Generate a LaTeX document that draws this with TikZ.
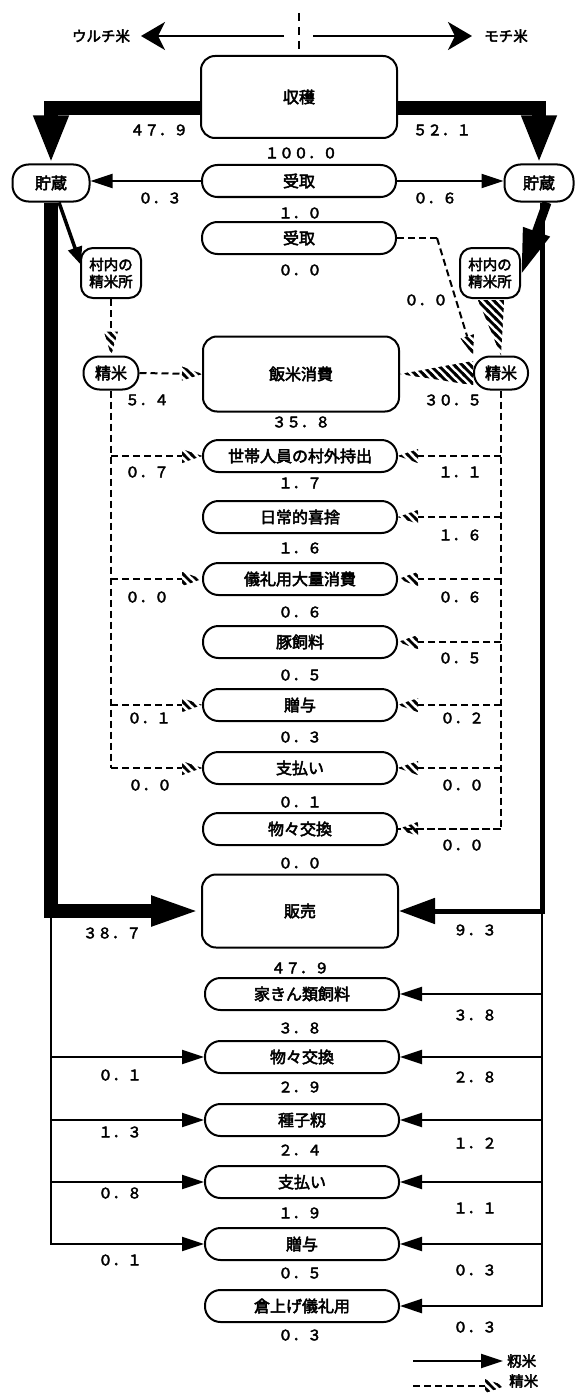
\documentclass[tikz,border=0pt]{standalone}
\usepackage{fontspec}
\newfontfamily\jp{Noto Sans CJK JP}[AutoFakeBold=3]
\usetikzlibrary{arrows.meta,calc,patterns}
\pgfdeclarepatternformonly{hatchx}{\pgfqpoint{-2pt}{-2pt}}{\pgfqpoint{10pt}{10pt}}{\pgfqpoint{8pt}{8pt}}{%
  \pgfsetlinewidth{2.8pt}%
  \pgfpathmoveto{\pgfqpoint{-2pt}{10pt}}%
  \pgfpathlineto{\pgfqpoint{10pt}{-2pt}}%
  \pgfusepath{stroke}}
\newcommand\htip[3][20]{\fill[pattern=hatchx] (#3) -- ($(#3)!#1pt!(#2)!7pt!90:(#3)$) -- ($(#3)!#1pt!(#2)!7pt!-90:(#3)$) -- cycle;}
\tikzset{
 box/.style={draw, line width=2pt, inner sep=0pt, font=\jp\bfseries\fontsize{16}{18}\selectfont, align=center},
 bigbox/.style={box, rounded corners=14pt, minimum width=196pt, minimum height=78pt},
 pill/.style={box, rounded corners=15.5pt, minimum width=194pt, minimum height=32pt},
 spill/.style={box, rounded corners=16pt, minimum height=34pt},
 mill/.style={box, rounded corners=12pt, minimum width=60pt, minimum height=50pt, font=\jp\bfseries\fontsize{14.5}{17}\selectfont},
 num/.style={inner sep=0pt, font=\jp\bfseries\fontsize{14.5}{16}\selectfont},
 jlab/.style={inner sep=0pt, font=\jp\bfseries\fontsize{14.5}{16}\selectfont},
 dsh/.style={line width=2pt, dash pattern=on 7pt off 4pt},
 sarrow/.style={line width=2.2pt, -{Triangle[length=22pt,width=14pt]}},
 toparrow/.style={line width=2.4pt, -{Stealth[length=24pt,width=28pt,inset=7pt]}},
 band/.style={line width=14pt},
}
\begin{document}
\begin{tikzpicture}[x=1pt,y=-1pt]
\useasboundingbox (0,0) rectangle (574,1399);
% ---------- nodes
\node[jlab] (uru) at (101,36) {ウルチ米};
\node[jlab] (mochi) at (506,36) {モチ米};
\node[bigbox, minimum height=82pt] (shukaku) at (299,97) {収穫};
\node[pill] (uke1) at (299,181) {受取};
\node[spill, minimum width=77pt, minimum height=37pt] (choL) at (51,183) {貯蔵};
\node[spill, minimum width=69pt, minimum height=37pt] (choR) at (539,183) {貯蔵};
\node[pill] (uke2) at (299,238) {受取};
\node[mill] (sonL) at (111,273) {村内の\\精米所};
\node[mill] (sonR) at (490,273) {村内の\\精米所};
\node[spill, minimum width=55pt, minimum height=33pt] (seiL) at (111,373) {精米};
\node[spill, minimum width=54pt, minimum height=33pt] (seiR) at (501,373) {精米};
\node[bigbox, minimum height=75pt] (hanmai) at (301,374) {飯米消費};
\foreach \n/\y/\t in {setai/456/世帯人員の村外持出, nichi/517/日常的喜捨, girei/579/儀礼用大量消費, ton/642/豚飼料, zoyoA/705/贈与, shiA/768/支払い, butsuA/829/物々交換}
  \node[pill] (\n) at (300,\y) {\t};
\node[bigbox, minimum height=73pt] (hanbai) at (300,911) {販売};
\foreach \n/\y/\t in {kakin/994/家きん類飼料, butsuB/1057/物々交換, shushi/1120/種子籾, shiB/1182/支払い, zoyoB/1244/贈与, kura/1306/倉上げ儀礼用}
  \node[pill] (\n) at (302,\y) {\t};
% ---------- top
\coordinate (ct) at (299,13); \coordinate (cb) at (299,50);
\draw[line width=2pt, dash pattern=on 8pt off 6pt] (ct) -- (cb);
\coordinate (al) at (284,36); \coordinate (alt) at (141,36);
\coordinate (ar) at (313,36); \coordinate (art) at (472,36);
\draw[toparrow] (al) -- (alt);
\draw[toparrow] (ar) -- (art);
% ---------- thick bands
\draw[band, -{Triangle[length=48pt,width=32pt]}] ($(shukaku.west)+(0,11)$) -| (choL.north);
\draw[band, -{Triangle[length=48pt,width=32pt]}] ($(shukaku.east)+(0,11)$) -| (choR.north);
\draw[band, -{Triangle[length=50pt,width=27pt]}] (choL.south) |- (hanbai.west);
\coordinate (rx) at (542,0);
\draw[line width=5pt, -{Triangle[length=36pt,width=25pt]}] (choR.south -| rx) |- (hanbai.east);
% to storage / mills
\draw[sarrow] (uke1.west) -- (uke1.west -| choL.east);
\draw[sarrow] (uke1.east) -- (uke1.east -| choR.west);
\draw[line width=3.5pt, -{Triangle[length=18pt,width=14pt]}] ($(choL.south)+(8,0)$) -- ($(sonL.west)+(1,-8)$);
\draw[line width=9pt, -{Triangle[length=46pt,width=26pt]}] ($(choR.south)+(8,0)$) -- ($(sonR.east)+(0,2)$);
% ---------- polished rice (dashed + hatched)
\draw[dsh, shorten >=22pt] (sonL.south) -- (seiL.north);
\htip[24]{sonL.south}{seiL.north}
\fill[pattern=hatchx] ($(sonR.south)+(-12,1)$) -- ($(sonR.south)+(14,1)$) -- (seiR.north) -- cycle;
\fill[pattern=hatchx] ($(seiR.west)+(0,-12)$) -- ($(seiR.west)+(0,12)$) -- (hanmai.east) -- cycle;
\draw[dsh, shorten >=20pt] (seiL.east) -- (hanmai.west);
\htip{seiL.east}{hanmai.west}
\coordinate (k1) at ($(uke2.east)+(40,0)$);
\draw[dsh] (uke2.east) -- (k1);
\draw[dsh, shorten >=20pt] (k1) -- (seiR.north west);
\htip{k1}{seiR.north west}
% left dashed trunk
\coordinate (lx) at (seiL.south);
\draw[dsh] (lx) |- (shiA.west -| lx);
\foreach \n in {setai, girei, zoyoA, shiA} {
  \draw[dsh, shorten >=20pt] (lx |- \n.west) -- (\n.west);
  \htip{lx |- \n.west}{\n.west}
}
% right dashed trunk
\coordinate (rxd) at (seiR.south);
\draw[dsh] (rxd) |- (butsuA.east);
\foreach \n in {setai, nichi, girei, ton, zoyoA, shiA} {
  \draw[dsh, shorten >=20pt] (rxd |- \n.east) -- (\n.east);
  \htip{rxd |- \n.east}{\n.east}
}
\draw[dsh, shorten >=20pt] (rxd |- butsuA.east) -- (butsuA.east);
\htip{rxd |- butsuA.east}{butsuA.east}
% ---------- lower solid arrows
\coordinate (lb) at (choL.south |- hanbai.west);
\draw[sarrow] (lb) |- (zoyoB.west);
\foreach \n in {butsuB, shushi, shiB} \draw[sarrow] (lb |- \n.west) -- (\n.west);
\coordinate (rb) at (rx |- hanbai.east);
\draw[line width=2.5pt, -{Triangle[length=22pt,width=14pt]}] (rb) |- (kura.east);
\foreach \n in {kakin, butsuB, shushi, shiB, zoyoB} \draw[sarrow] (rx |- \n.east) -- (\n.east);
% ---------- legend
\coordinate (lg1a) at (413,1361); \coordinate (lg1b) at (503,1361);
\draw[sarrow] (lg1a) -- (lg1b);
\node[jlab, anchor=west] (lgm) at (507,1361) {籾米};
\coordinate (lg2a) at (413,1386); \coordinate (lg2b) at (505,1386);
\draw[dsh, shorten >=20pt] (lg2a) -- (lg2b);
\htip{lg2a}{lg2b}
\node[jlab, anchor=west] (lgs) at (509,1381) {精米};
% ---------- numbers
\foreach \x/\y/\t [count=\i] in {
301/153/１００．０, 159/130/４７．９, 442/130/５２．１, 160/198/０．３, 435/198/０．６,
300/213/１．０, 300/270/０．０, 426/300/０．０, 147/400/５．４, 453/400/３０．５, 301/422/３５．８,
147/472/０．７, 460/472/１．１, 300/483/１．７, 460/535/１．６, 300/548/１．６,
147/597/０．０, 460/597/０．６, 300/612/０．６, 460/658/０．５, 300/675/０．５,
149/718/０．１, 462/718/０．２, 300/737/０．３, 150/785/０．０, 462/785/０．０, 300/802/０．１,
462/845/０．０, 300/863/０．０, 112/933/３８．７, 475/930/９．３, 300/968/４７．９,
475/1015/３．８, 300/1028/３．８, 120/1075/０．１, 475/1077/２．８, 300/1087/２．９,
120/1132/１．３, 475/1143/１．２, 300/1150/２．４, 120/1193/０．８, 475/1208/１．１, 300/1213/１．９,
120/1260/０．１, 475/1270/０．３, 300/1273/０．５, 475/1327/０．３, 300/1335/０．３}
  \node[num] (n\i) at (\x,\y) {\t};
\end{tikzpicture}
\end{document}
